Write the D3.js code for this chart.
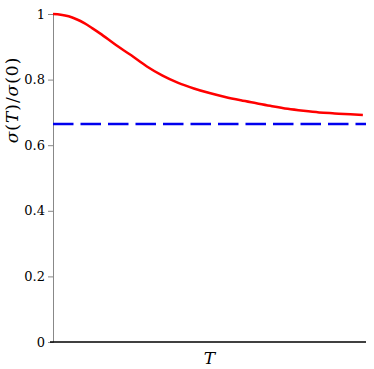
<!DOCTYPE html>
<html>
<head>
<meta charset="utf-8">
<script src="https://cdn.jsdelivr.net/npm/d3@7"></script>
<style>
  body { margin: 0; background: #fff; }
</style>
</head>
<body>
<div id="chart"></div>
<script>
// ratio sigma(T)/sigma(0)
var tValues = [0, 0.025, 0.05, 0.075, 0.1, 0.125, 0.15, 0.2, 0.25, 0.3, 0.35, 0.4, 0.45, 0.5, 0.55, 0.6, 0.65, 0.7, 0.75, 0.8, 0.85, 0.9, 0.95, 0.99]
var ratio = [1, 0.998, 0.993, 0.984, 0.972, 0.957, 0.941, 0.906, 0.874, 0.840, 0.812, 0.790, 0.773, 0.759, 0.747, 0.737, 0.728, 0.719, 0.711, 0.705, 0.700, 0.697, 0.694, 0.692]
var limitValue = 0.665
var yTicks = [0, 0.2, 0.4, 0.6, 0.8, 1]
// y label pieces: [text, italic]
var yLabelParts = [["σ", true], ["(", false], ["T", true], [")", false], ["/", false], ["σ", true], ["(", false], ["0", false], [")", false]]

var serif = "'DejaVu Serif', serif"
var width = 374, height = 369
var margin = {top: 14, right: 8, bottom: 27, left: 53}

var svg = d3.select("#chart").append("svg")
	.attr("width", width)
	.attr("height", height)

var x = d3.scaleLinear()
	.domain([0, 1])
	.range([margin.left, width - margin.right])

var y = d3.scaleLinear()
	.domain([0, 1])
	.range([height - margin.bottom, margin.top])

var data = tValues.map((t, i) => ({t: t, v: ratio[i]}))

// y axis
var yAxis = svg.append("g")
	.attr("transform", `translate(${margin.left},0)`)
	.call(d3.axisLeft(y).tickValues(yTicks).tickSize(5).tickPadding(3)
		.tickFormat(d => String(d)))

yAxis.attr("font-family", serif).attr("font-size", 13)
yAxis.select(".domain").attr("stroke", "#888").attr("stroke-width", 1)
yAxis.selectAll(".tick line").attr("stroke", "#888")
yAxis.selectAll(".tick text").attr("fill", "#000")

// x axis (plain line)
svg.append("line")
	.attr("x1", x(0) - 3)
	.attr("x2", x(1))
	.attr("y1", y(0))
	.attr("y2", y(0))
	.attr("stroke", "#000")
	.attr("stroke-width", 1.5)

// asymptote
svg.append("line")
	.attr("x1", x(0))
	.attr("x2", x(1))
	.attr("y1", y(limitValue))
	.attr("y2", y(limitValue))
	.attr("stroke", "#0000ee")
	.attr("stroke-width", 2.5)
	.attr("stroke-dasharray", "20.5,7")

var line = d3.line()
	.curve(d3.curveMonotoneX)
	.x(d => x(d.t))
	.y(d => y(d.v))

svg.append("path")
	.datum(data)
	.attr("fill", "none")
	.attr("stroke", "#ff0000")
	.attr("stroke-width", 2.5)
	.attr("d", line)

// labels
svg.append("text")
	.attr("x", (x(0) + x(1)) / 2)
	.attr("y", 364)
	.attr("text-anchor", "middle")
	.attr("font-family", serif)
	.attr("font-size", 17)
	.attr("font-style", "italic")
	.text("T")

var yLabel = svg.append("text")
	.attr("transform", `translate(18,100) rotate(-90)`)
	.attr("text-anchor", "middle")
	.attr("font-family", serif)
	.attr("font-size", 17)
	.attr("letter-spacing", 1)

yLabel.selectAll("tspan")
	.data(yLabelParts)
	.join("tspan")
	.attr("font-style", d => d[1] ? "italic" : "normal")
	.text(d => d[0])
</script>
</body>
</html>
